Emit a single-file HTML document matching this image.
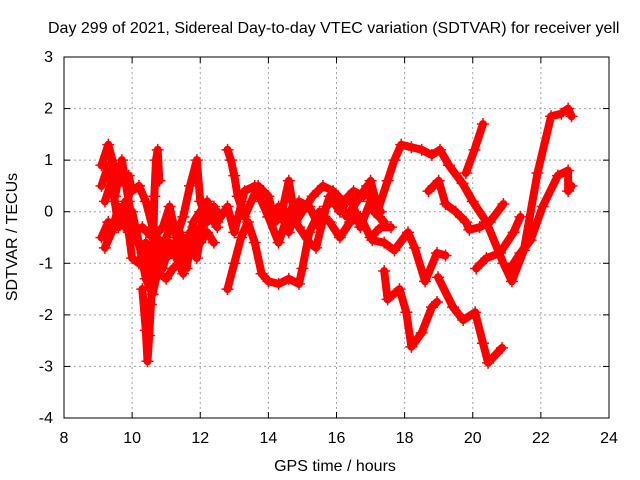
<!DOCTYPE html>
<html><head><meta charset="utf-8"><style>
body{margin:0;background:#fff}
svg{display:block;font-family:"Liberation Sans",sans-serif}
</style></head><body>
<svg id="chart" width="640" height="480">
<rect width="640" height="480" fill="#fff"/>
<text x="48" y="33" font-size="16">Day 299 of 2021, Sidereal Day-to-day VTEC variation (SDTVAR) for receiver yell</text>
<g id="grid"></g>
<g id="series"></g>
<rect x="64" y="57" width="545" height="361" fill="none" stroke="#000"/>
<g id="ticks"></g>
<text x="335" y="471" font-size="16" text-anchor="middle">GPS time / hours</text>
<text transform="translate(17,237) rotate(-90)" font-size="16" text-anchor="middle">SDTVAR / TECUs</text>
</svg>
<script>
const xTicks=[8,10,12,14,16,18,20,22,24];
const yTicks=[3,2,1,0,-1,-2,-3,-4];
const trackL1=[[9.1,0.9],[9.3,1.3],[9.5,0.8],[9.7,0.6],[9.9,0.7],[10.0,0.4],[10.2,0.5],[10.4,0.2],[10.6,-0.3],[10.8,-0.6],[11.0,-0.9],[11.2,-0.7],[11.4,-0.4],[11.6,-0.8],[11.8,-0.2],[12.0,0.0],[12.2,0.2],[12.4,-0.1]];
const trackL2=[[9.1,-0.5],[9.3,-0.2],[9.5,-0.3],[9.7,-0.2],[9.9,-0.4],[10.0,-0.9],[10.2,-1.0],[10.4,-0.6],[10.6,-0.9],[10.8,-1.2],[11.0,-1.3],[11.2,-1.1],[11.4,-1.0],[11.6,-0.5],[11.8,-0.7],[12.0,-0.3],[12.2,0.0],[12.5,-0.3]];
const trackL3=[[10.3,-1.5],[10.4,-2.3],[10.45,-2.9],[10.5,-2.4],[10.55,-1.8],[10.6,-1.2],[10.65,0.3],[10.7,1.0],[10.75,1.2],[10.8,0.6]];
const trackL4=[[9.2,0.2],[9.4,0.6],[9.6,-0.3],[9.8,0.2],[10.0,-0.4],[10.3,-0.3],[10.6,-0.5],[10.9,-0.3],[11.1,0.1],[11.3,-0.5],[11.5,-0.1],[11.7,0.5],[11.9,1.0],[12.0,0.2],[12.2,-0.2],[12.4,0.1]];
const trackL5=[[9.1,0.5],[9.3,0.9],[9.5,0.3],[9.7,1.0],[9.9,0.2],[10.1,-0.5],[10.3,-0.8],[10.5,-1.1],[10.7,-0.6],[10.9,-1.1],[11.1,-0.6],[11.3,-0.9],[11.5,-1.2],[11.7,-0.4],[11.9,-0.9],[12.1,-0.1],[12.3,0.1],[12.5,0.0]];
const trackL6=[[9.2,-0.7],[9.4,-0.4],[9.6,0.1],[9.8,-0.3],[10.0,0.0],[10.2,-0.6],[10.4,-1.3],[10.6,-1.6],[10.8,-1.0],[11.0,-0.5],[11.2,-0.2],[11.4,-0.7],[11.6,-1.1],[11.8,-0.3],[12.0,-0.6],[12.2,-0.4],[12.4,-0.6]];
const trackM1=[[12.8,1.2],[12.9,1.0],[13.0,0.7],[13.1,0.3],[13.3,-0.1],[13.5,0.2],[13.7,0.5],[14.0,0.3],[14.2,-0.2],[14.4,0.0],[14.6,0.6],[14.8,-0.2],[15.0,0.0],[15.3,0.3],[15.6,0.5],[15.9,0.4],[16.2,0.2],[16.5,0.4],[16.8,0.3],[17.0,0.6],[17.2,0.1]];
const trackM2=[[12.8,-1.5],[13.0,-1.0],[13.2,-0.5],[13.4,-0.2],[13.6,-0.6],[13.8,-1.2],[14.0,-1.35],[14.3,-1.4],[14.6,-1.3],[14.9,-1.4],[15.0,-1.1],[15.2,-0.4],[15.5,0.0],[15.8,-0.2],[16.1,-0.5],[16.4,-0.2],[16.7,-0.1],[17.0,-0.5],[17.3,-0.3],[17.6,-0.3]];
const trackM3=[[12.5,-0.2],[12.8,0.1],[13.0,-0.4],[13.3,0.4],[13.6,0.5],[14.0,-0.1],[14.3,-0.6],[14.6,0.0],[14.9,-0.3],[15.2,-0.6],[15.4,-0.7],[15.7,0.1],[16.0,0.3],[16.3,-0.1],[16.6,0.2],[16.9,0.5],[17.1,0.0],[17.4,-0.2]];
const trackM4=[[14.0,-0.1],[14.3,0.1],[14.6,-0.4],[14.9,0.2],[15.2,0.1],[15.5,-0.3],[15.8,0.3],[16.1,0.0],[16.4,0.3],[16.7,-0.3],[17.0,0.2],[17.3,0.0]];
const trackA=[[17.2,0.0],[17.5,0.6],[17.7,1.0],[17.9,1.3],[18.2,1.25],[18.5,1.2],[18.8,1.1],[19.04,1.2],[19.3,0.9],[19.7,0.55],[20.0,0.2],[20.4,-0.2],[20.9,-1.0],[21.15,-1.35],[21.5,-0.75],[21.9,0.75],[22.3,1.85],[22.6,1.9],[22.8,2.0],[22.9,1.85]];
const trackB=[[18.7,0.4],[19.0,0.6],[19.2,0.15],[19.5,0.0],[19.8,-0.2],[19.9,-0.35],[20.2,-0.3],[20.5,-0.2],[20.9,0.15]];
const trackB2=[[20.1,-1.1],[20.4,-0.9],[20.8,-0.8],[21.2,-0.4],[21.4,-0.1]];
const trackC=[[21.1,-1.1],[21.4,-0.8],[21.7,-0.55],[22.05,0.1],[22.5,0.7],[22.8,0.8],[22.8,0.4],[22.9,0.5]];
const trackD=[[19.8,0.75],[20.05,1.2],[20.3,1.7]];
const trackE=[[17.05,-0.55],[17.4,-0.6],[17.7,-0.75],[18.1,-0.4],[18.3,-0.7],[18.6,-1.35],[18.95,-0.8],[19.2,-0.85]];
const trackF=[[17.4,-1.15],[17.5,-1.7],[17.85,-1.5],[18.05,-1.95],[18.2,-2.62],[18.5,-2.35],[18.8,-1.85],[18.95,-1.75]];
const trackG=[[18.98,-1.27],[19.42,-1.85],[19.72,-2.1],[20.07,-1.95],[20.3,-2.55],[20.45,-2.93],[20.86,-2.64]];
const tracks=[trackL1,trackL2,trackL3,trackL4,trackL5,trackL6,trackM1,trackM2,trackM3,trackM4,trackA,trackB,trackB2,trackC,trackD,trackE,trackF,trackG];

const X0=64,X1=609,Y0=418,Y1=57;
function sx(h){return X0+(h-8)/(24-8)*(X1-X0);}
function sy(v){return Y0-(v+4)/7*(Y0-Y1);}
const NS='http://www.w3.org/2000/svg';
function mk(t,a,p){const e=document.createElementNS(NS,t);for(const k in a)e.setAttribute(k,a[k]);p.appendChild(e);return e;}
const grid=document.getElementById('grid'),ticks=document.getElementById('ticks'),ser=document.getElementById('series');
xTicks.forEach(t=>{
  const x=sx(t);
  if(t>8&&t<24){const g=mk('line',{x1:x,x2:x,y1:Y1,y2:Y0,stroke:'#a0a0a0','stroke-dasharray':'2,3'},grid);
  
  }
  mk('line',{x1:x,x2:x,y1:Y0,y2:Y0-6,stroke:'#000'},ticks);
  mk('line',{x1:x,x2:x,y1:Y1,y2:Y1+6,stroke:'#000'},ticks);
  const l=mk('text',{x:x,y:443,'font-size':16,'text-anchor':'middle'},ticks);l.textContent=t;
  
  
});
yTicks.forEach(t=>{
  const y=sy(t);
  if(t<3&&t>-4){const g=mk('line',{x1:X0,x2:X1,y1:y,y2:y,stroke:'#a0a0a0','stroke-dasharray':'2,3'},grid);
  
  }
  mk('line',{x1:X0,x2:X0+6,y1:y,y2:y,stroke:'#000'},ticks);
  mk('line',{x1:X1,x2:X1-6,y1:y,y2:y,stroke:'#000'},ticks);
  const l=mk('text',{x:53,y:y+5,'font-size':16,'text-anchor':'end'},ticks);l.textContent=t;
  
  
});
tracks.forEach(tr=>{
  const d=tr.map((p,i)=>(i?'L':'M')+sx(p[0]).toFixed(1)+','+sy(p[1]).toFixed(1)).join('');
  const path=mk('path',{d:d,fill:'none',stroke:'#f00','stroke-width':8,'stroke-linejoin':'round','stroke-linecap':'round'},ser);
  
  
  tr.forEach(p=>{
    const x=sx(p[0]),y=sy(p[1]);
    const m=mk('path',{d:`M${x-6},${y}H${x+6}M${x},${y-6}V${y+6}`,stroke:'#f00','stroke-width':1.5},ser);
    
    
  });
});
</script>
</body></html>
